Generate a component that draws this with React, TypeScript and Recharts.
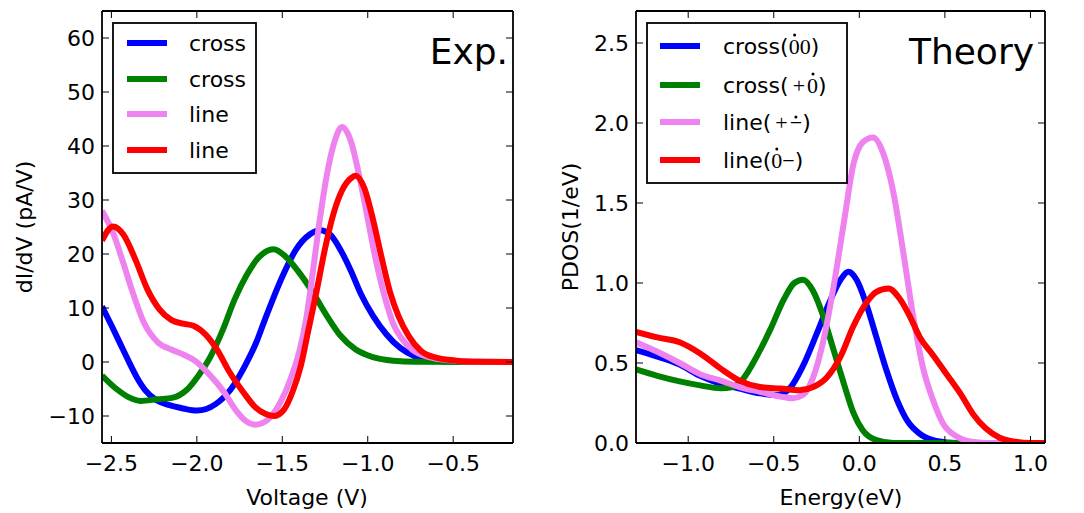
import React from "react";
import { LineChart, Line, XAxis, YAxis } from "recharts";

type Pt = [number, number];

// ---- Exp. panel: dI/dV (pA/V) vs Voltage (V)
const expCrossBlue: Pt[] = [
  [-2.555, 10.3], [-2.5, 6.8], [-2.45, 3.5], [-2.4, 0.2], [-2.35, -2.9], [-2.3, -5.3],
  [-2.24, -7.0], [-2.16, -8.0], [-2.08, -8.6], [-2.0, -9.0], [-1.89, -7.8], [-1.8, -5.0],
  [-1.72, -0.8], [-1.65, 3.8], [-1.6, 8.0], [-1.5, 15.8], [-1.42, 20.8], [-1.34, 23.6],
  [-1.28, 24.4], [-1.22, 23.6], [-1.16, 20.8], [-1.1, 17.0], [-1.04, 12.6], [-0.97, 8.6],
  [-0.89, 5.1], [-0.81, 2.6], [-0.72, 1.0], [-0.62, 0.3], [-0.5, 0.05], [-0.15, 0],
];
const expCrossGreen: Pt[] = [
  [-2.555, -2.5], [-2.47, -5.0], [-2.4, -6.5], [-2.33, -7.2], [-2.23, -6.9], [-2.14, -6.6],
  [-2.06, -5.2], [-1.99, -2.5], [-1.92, 1.0], [-1.85, 5.8], [-1.78, 11.5], [-1.71, 16.0],
  [-1.64, 19.3], [-1.58, 20.7], [-1.55, 20.9], [-1.48, 19.5], [-1.4, 16.5], [-1.32, 12.8],
  [-1.24, 8.6], [-1.16, 4.9], [-1.07, 2.3], [-0.97, 0.9], [-0.85, 0.25], [-0.72, 0.05], [-0.15, 0],
];
const expLineViolet: Pt[] = [
  [-2.555, 28], [-2.49, 23.9], [-2.43, 18.3], [-2.37, 12.4], [-2.31, 7.3], [-2.23, 3.7],
  [-2.15, 2.3], [-2.08, 1.4], [-2.01, 0.2], [-1.93, -2.2], [-1.84, -5.6], [-1.77, -9.0],
  [-1.71, -11.0], [-1.66, -11.6], [-1.59, -10.8], [-1.51, -7.4], [-1.45, -3], [-1.4, 2],
  [-1.36, 8], [-1.32, 17], [-1.28, 26.5], [-1.24, 34.5], [-1.2, 40.2], [-1.15, 43.5],
  [-1.1, 41], [-1.05, 34.5], [-1.0, 26.5], [-0.95, 18.5], [-0.9, 12], [-0.85, 7],
  [-0.8, 4.3], [-0.74, 2.3], [-0.64, 0.9], [-0.52, 0.3], [-0.38, 0.05], [-0.15, 0],
];
const expLineRed: Pt[] = [
  [-2.555, 22.5], [-2.49, 25.1], [-2.43, 23.6], [-2.36, 19], [-2.29, 13.5], [-2.22, 9.8],
  [-2.15, 7.8], [-2.08, 7.1], [-2.02, 6.7], [-1.95, 5.1], [-1.88, 2.2], [-1.81, -1.8],
  [-1.73, -5.5], [-1.66, -8.3], [-1.6, -9.6], [-1.55, -10.0], [-1.49, -8.8], [-1.44, -5.5],
  [-1.39, -0.5], [-1.35, 5.5], [-1.3, 13], [-1.25, 21], [-1.2, 27.5], [-1.15, 31.8],
  [-1.1, 34], [-1.07, 34.5], [-1.02, 32.2], [-0.97, 26.5], [-0.92, 19.5], [-0.87, 13],
  [-0.82, 8.5], [-0.76, 4.8], [-0.69, 2.1], [-0.6, 0.8], [-0.48, 0.25], [-0.35, 0.05], [-0.15, 0],
];

// ---- Theory panel: PDOS (1/eV) vs Energy (eV)
const theoCrossBlue: Pt[] = [
  [-1.305, 0.58], [-1.18, 0.54], [-1.05, 0.49], [-0.93, 0.42], [-0.81, 0.37], [-0.7, 0.34],
  [-0.58, 0.31], [-0.48, 0.3], [-0.4, 0.35], [-0.33, 0.48], [-0.25, 0.68], [-0.17, 0.89],
  [-0.11, 1.02], [-0.064, 1.07], [-0.016, 1.02], [0.04, 0.87], [0.1, 0.66], [0.16, 0.45],
  [0.22, 0.27], [0.28, 0.14], [0.35, 0.06], [0.45, 0.013], [0.57, 0], [1.085, 0],
];
const theoCrossGreen: Pt[] = [
  [-1.305, 0.46], [-1.18, 0.42], [-1.05, 0.385], [-0.93, 0.36], [-0.81, 0.342], [-0.74, 0.35],
  [-0.68, 0.4], [-0.6, 0.54], [-0.52, 0.71], [-0.44, 0.9], [-0.38, 1.0], [-0.33, 1.02],
  [-0.27, 0.95], [-0.21, 0.79], [-0.15, 0.58], [-0.09, 0.37], [-0.035, 0.19], [0.02, 0.08],
  [0.1, 0.018], [0.2, 0], [1.085, 0],
];
const theoLineViolet: Pt[] = [
  [-1.305, 0.63], [-1.18, 0.57], [-1.05, 0.5], [-0.93, 0.43], [-0.81, 0.39], [-0.7, 0.35],
  [-0.58, 0.32], [-0.46, 0.29], [-0.39, 0.28], [-0.33, 0.3], [-0.27, 0.41], [-0.21, 0.64],
  [-0.15, 0.98], [-0.09, 1.38], [-0.035, 1.74], [0.02, 1.88], [0.08, 1.91], [0.14, 1.81],
  [0.2, 1.56], [0.257, 1.19], [0.315, 0.79], [0.37, 0.48], [0.43, 0.27], [0.49, 0.12],
  [0.57, 0.04], [0.665, 0.006], [0.76, 0], [1.085, 0],
];
const theoLineRed: Pt[] = [
  [-1.305, 0.695], [-1.18, 0.66], [-1.05, 0.63], [-0.93, 0.56], [-0.81, 0.465], [-0.7, 0.39],
  [-0.58, 0.35], [-0.46, 0.34], [-0.35, 0.33], [-0.27, 0.35], [-0.19, 0.41], [-0.11, 0.54],
  [-0.035, 0.73], [0.043, 0.88], [0.1, 0.945], [0.17, 0.966], [0.237, 0.9], [0.296, 0.79],
  [0.354, 0.66], [0.43, 0.55], [0.51, 0.43], [0.59, 0.31], [0.665, 0.18], [0.74, 0.09],
  [0.82, 0.033], [0.9, 0.01], [1.0, 0], [1.085, 0],
];

const expXTicks = [-2.5, -2.0, -1.5, -1.0, -0.5];
const expYTicks = [-10, 0, 10, 20, 30, 40, 50, 60];
const theoXTicks = [-1.0, -0.5, 0.0, 0.5, 1.0];
const theoYTicks = [0, 0.5, 1.0, 1.5, 2.0, 2.5];

const BLUE = "#0000ff";
const GREEN = "#008000";
const VIOLET = "#ee82ee";
const RED = "#ff0000";
const FONT = "DejaVu Sans";
const MATH = "Liberation Serif";

const minus = (s: string) => s.replace("-", "\u2212");
const fmt1 = (v: number) => minus(v.toFixed(1));
const fmt0 = (v: number) => minus(String(v));
const rows = (pts: Pt[]) => pts.map(([x, y]) => ({ x, y }));

interface Series {
  key: string;
  color: string;
  points: Pt[];
}

const expSeries: Series[] = [
  { key: "eb", color: BLUE, points: expCrossBlue },
  { key: "eg", color: GREEN, points: expCrossGreen },
  { key: "ev", color: VIOLET, points: expLineViolet },
  { key: "er", color: RED, points: expLineRed },
];
const theoSeries: Series[] = [
  { key: "tb", color: BLUE, points: theoCrossBlue },
  { key: "tg", color: GREEN, points: theoCrossGreen },
  { key: "tv", color: VIOLET, points: theoLineViolet },
  { key: "tr", color: RED, points: theoLineRed },
];

const TICK_LEN = 7;
const X_GAP = 12;
const Y_GAP = 7;
const axisLine = { stroke: "#000", strokeWidth: 1.8 };

// inward tick marks on every side, labels only bottom/left
const makeTick = (side: "b" | "t" | "l" | "r", fmt?: (v: number) => string) =>
  (props: any) => {
    const { x, y, payload } = props;
    if (side === "b") {
      const ay = y - X_GAP;
      return (
        <g>
          <line x1={x} x2={x} y1={ay} y2={ay - TICK_LEN} stroke="#000" strokeWidth={1} />
          <text x={x} y={y} dy="0.71em" textAnchor="middle" fontSize={22} fontFamily={FONT} fill="#000">
            {fmt ? fmt(payload.value) : ""}
          </text>
        </g>
      );
    }
    if (side === "l") {
      const ax = x + Y_GAP;
      return (
        <g>
          <line x1={ax} x2={ax + TICK_LEN} y1={y} y2={y} stroke="#000" strokeWidth={1} />
          <text x={x} y={y} dy="0.36em" textAnchor="end" fontSize={22} fontFamily={FONT} fill="#000">
            {fmt ? fmt(payload.value) : ""}
          </text>
        </g>
      );
    }
    if (side === "t") {
      return <line x1={x} x2={x} y1={y} y2={y + TICK_LEN} stroke="#000" strokeWidth={1} />;
    }
    return <line x1={x} x2={x - TICK_LEN} y1={y} y2={y} stroke="#000" strokeWidth={1} />;
  };

interface PanelProps {
  left: number;
  width: number;
  margin: { top: number; right: number; bottom: number; left: number };
  xDomain: [number, number];
  yDomain: [number, number];
  xTicks: number[];
  yTicks: number[];
  yFmt: (v: number) => string;
  series: Series[];
}

const Panel: React.FC<PanelProps> = (p) => (
  <div style={{ position: "absolute", left: p.left, top: 0 }}>
    <LineChart width={p.width} height={513} margin={p.margin} style={{ fontFamily: FONT }}>
      <XAxis
        xAxisId="b"
        type="number"
        dataKey="x"
        domain={p.xDomain}
        ticks={p.xTicks}
        allowDataOverflow
        height={30}
        tickSize={0}
        tickMargin={X_GAP}
        tick={makeTick("b", fmt1)}
        tickLine={false}
        axisLine={axisLine}
      />
      <XAxis
        xAxisId="t"
        orientation="top"
        type="number"
        dataKey="x"
        domain={p.xDomain}
        ticks={p.xTicks}
        allowDataOverflow
        height={1}
        tickSize={0}
        tickMargin={0}
        tick={makeTick("t")}
        tickLine={false}
        axisLine={axisLine}
      />
      <YAxis
        yAxisId="l"
        type="number"
        domain={p.yDomain}
        ticks={p.yTicks}
        allowDataOverflow
        width={60}
        tickSize={0}
        tickMargin={Y_GAP}
        tick={makeTick("l", p.yFmt)}
        tickLine={false}
        axisLine={axisLine}
      />
      <YAxis
        yAxisId="r"
        orientation="right"
        type="number"
        domain={p.yDomain}
        ticks={p.yTicks}
        allowDataOverflow
        width={1}
        tickSize={0}
        tickMargin={0}
        tick={makeTick("r")}
        tickLine={false}
        axisLine={axisLine}
      />
      {p.series.map((s) => (
        <Line
          key={s.key}
          xAxisId="b"
          yAxisId="l"
          data={rows(s.points)}
          dataKey="y"
          type="monotone"
          stroke={s.color}
          strokeWidth={6}
          dot={false}
          activeDot={false}
          isAnimationActive={false}
        />
      ))}
    </LineChart>
  </div>
);

// ---- legends; mathtext pieces get a dot drawn above them
interface Piece {
  t: string;
  math?: boolean;
  dot?: number; // dot height above baseline
  dx?: number;
}

const SANS_W: Record<string, number> = {
  c: 0.5498, r: 0.411, o: 0.6118, s: 0.521, "(": 0.39, ")": 0.39,
  l: 0.278, i: 0.278, n: 0.634, e: 0.615,
};
const MATH_W: Record<string, number> = { "0": 0.5, "+": 0.564, "\u2212": 0.564 };
const FS = 22;
const MFS = 22;

const expLegend: { color: string; pieces: Piece[] }[] = [
  { color: BLUE, pieces: [{ t: "cross" }] },
  { color: GREEN, pieces: [{ t: "cross" }] },
  { color: VIOLET, pieces: [{ t: "line" }] },
  { color: RED, pieces: [{ t: "line" }] },
];
const theoLegend: { color: string; pieces: Piece[] }[] = [
  { color: BLUE, pieces: [{ t: "cross(" }, { t: "0", math: true, dot: 19 }, { t: "0", math: true }, { t: ")" }] },
  { color: GREEN, pieces: [{ t: "cross(" }, { t: "+", math: true, dx: 4 }, { t: "0", math: true, dot: 19, dx: 2 }, { t: ")" }] },
  { color: VIOLET, pieces: [{ t: "line(" }, { t: "+", math: true, dx: 4 }, { t: "\u2212", math: true, dot: 13, dx: 2 }, { t: ")" }] },
  { color: RED, pieces: [{ t: "line(" }, { t: "0", math: true, dot: 19 }, { t: "\u2212", math: true }, { t: ")" }] },
];

const LegendBox: React.FC<{
  x: number; y: number; w: number; h: number;
  lineX: number; textX: number; rowY: number[];
  items: { color: string; pieces: Piece[] }[];
}> = ({ x, y, w, h, lineX, textX, rowY, items }) => (
  <g>
    <rect x={x} y={y} width={w} height={h} fill="#fff" stroke="#000" strokeWidth={1.8} />
    {items.map((it, i) => {
      const base = rowY[i] + 8;
      let pen = textX;
      const dots: { cx: number; cy: number }[] = [];
      it.pieces.forEach((pc) => {
        pen += pc.dx ?? 0;
        const wTab = pc.math ? MATH_W : SANS_W;
        const size = pc.math ? MFS : FS;
        const wd = pc.t.split("").reduce((a, ch) => a + (wTab[ch] ?? 0.55), 0) * size;
        if (pc.dot) dots.push({ cx: pen + wd / 2, cy: base - pc.dot });
        pen += wd;
      });
      return (
        <g key={i}>
          <line x1={lineX} x2={lineX + 40} y1={rowY[i]} y2={rowY[i]} stroke={it.color} strokeWidth={6} />
          <text x={textX} y={base} fontSize={FS} fontFamily={FONT} fill="#000">
            {it.pieces.map((pc, j) =>
              pc.math ? (
                <tspan key={j} fontFamily={MATH} fontSize={MFS} dx={pc.dx}>{pc.t}</tspan>
              ) : (
                <tspan key={j} dx={pc.dx}>{pc.t}</tspan>
              )
            )}
          </text>
          {dots.map((d, k) => (
            <circle key={k} cx={d.cx} cy={d.cy} r={1.5} fill="#000" />
          ))}
        </g>
      );
    })}
  </g>
);

export default function App() {
  return (
    <div style={{ position: "absolute", left: 0, top: 0, width: 1084, height: 513, background: "#fff" }}>
      <Panel
        left={0}
        width={540}
        margin={{ top: 10, right: 26, bottom: 40, left: 42 }}
        xDomain={[-2.555, -0.15]}
        yDomain={[-15, 65]}
        xTicks={expXTicks}
        yTicks={expYTicks}
        yFmt={fmt0}
        series={expSeries}
      />
      <Panel
        left={540}
        width={544}
        margin={{ top: 10, right: 38, bottom: 40, left: 36 }}
        xDomain={[-1.305, 1.085]}
        yDomain={[0, 2.7]}
        xTicks={theoXTicks}
        yTicks={theoYTicks}
        yFmt={fmt1}
        series={theoSeries}
      />
      <svg
        width={1084}
        height={513}
        style={{ position: "absolute", left: 0, top: 0, pointerEvents: "none" }}
        fontFamily={FONT}
      >
        <LegendBox x={113} y={23} w={143} h={150} lineX={127} textX={189}
          rowY={[43, 79, 114, 150]} items={expLegend} />
        <LegendBox x={647} y={23} w={200} h={160} lineX={660} textX={723}
          rowY={[46, 85, 122, 160]} items={theoLegend} />
        <text x={508} y={64} fontSize={36} textAnchor="end" fill="#000">Exp.</text>
        <text x={1034} y={64} fontSize={36} textAnchor="end" fill="#000">Theory</text>
        <text x={307} y={505} fontSize={22} textAnchor="middle" fill="#000">Voltage (V)</text>
        <text x={841} y={505} fontSize={22} textAnchor="middle" fill="#000">Energy(eV)</text>
        <text x={32} y={227} fontSize={22} textAnchor="middle" fill="#000"
          transform="rotate(-90 32 227)">dI/dV (pA/V)</text>
        <text x={578} y={227} fontSize={22} textAnchor="middle" fill="#000"
          transform="rotate(-90 578 227)">PDOS(1/eV)</text>
      </svg>
    </div>
  );
}
